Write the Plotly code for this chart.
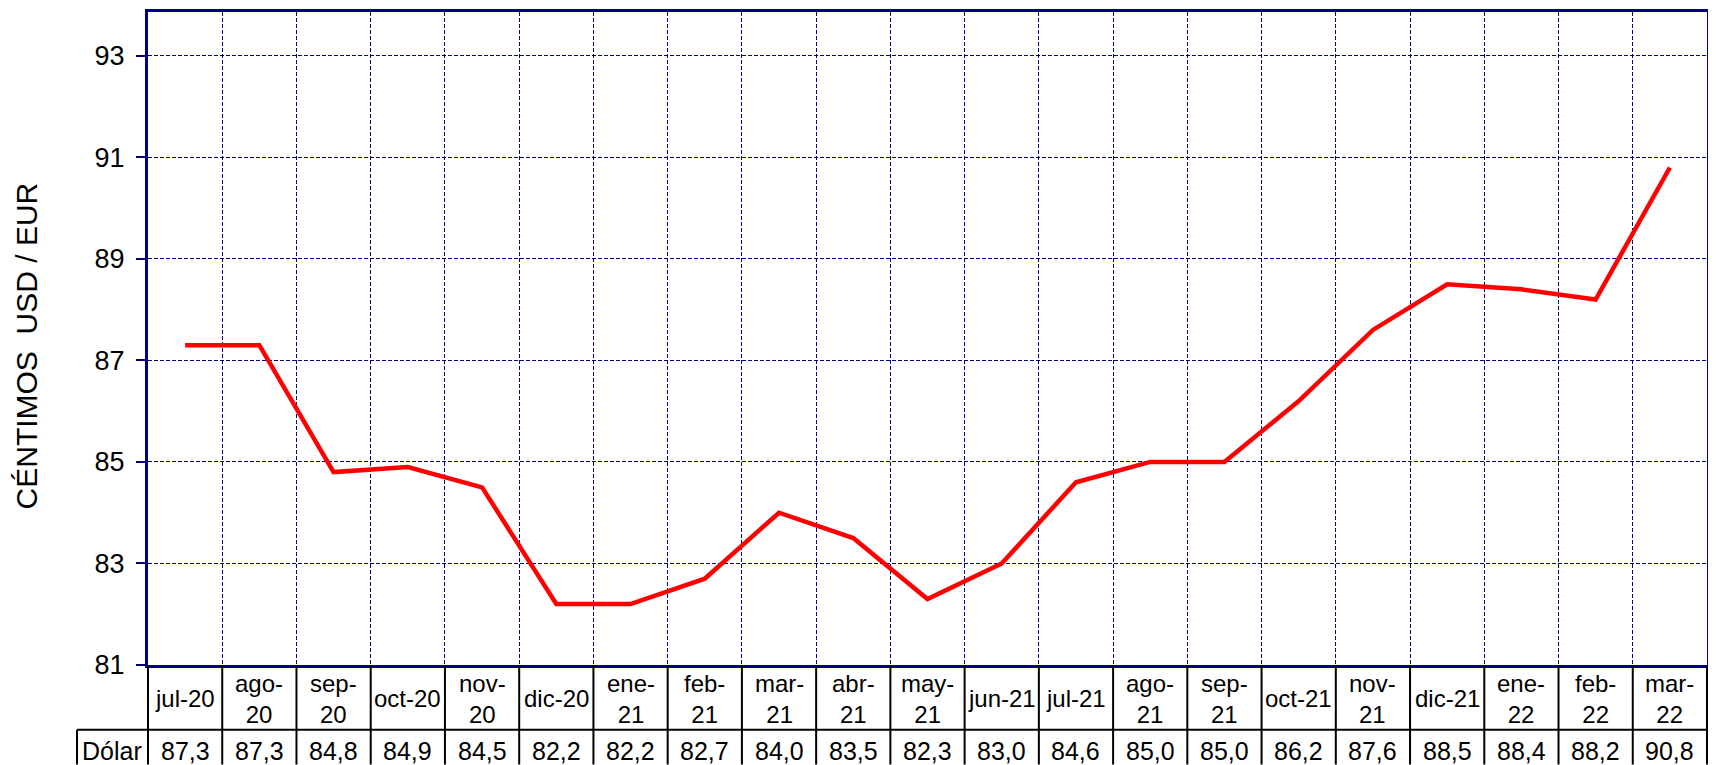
import plotly.graph_objects as go

# datos
meses = ["jul-20", "ago-20", "sep-20", "oct-20", "nov-20", "dic-20", "ene-21",
         "feb-21", "mar-21", "abr-21", "may-21", "jun-21", "jul-21", "ago-21",
         "sep-21", "oct-21", "nov-21", "dic-21", "ene-22", "feb-22", "mar-22"]
etiquetas = ["jul-20", "ago-<br>20", "sep-<br>20", "oct-20", "nov-<br>20", "dic-20",
             "ene-<br>21", "feb-<br>21", "mar-<br>21", "abr-<br>21", "may-<br>21",
             "jun-21", "jul-21", "ago-<br>21", "sep-<br>21", "oct-21", "nov-<br>21",
             "dic-21", "ene-<br>22", "feb-<br>22", "mar-<br>22"]
dolar = [87.3, 87.3, 84.8, 84.9, 84.5, 82.2, 82.2, 82.7, 84.0, 83.5, 82.3,
         83.0, 84.6, 85.0, 85.0, 86.2, 87.6, 88.5, 88.4, 88.2, 90.8]
ticks_y = [81, 83, 85, 87, 89, 91, 93]

FONT = "Liberation Sans, Arial, sans-serif"
NAVY = "#000080"

# la página deja 8px de margen en el body
OFF = 8
W, H = 1708, 757
ML, MR, MT, MB = 140, 9, 1, 100
plot_w = W - ML - MR
plot_h = H - MT - MB
# 81 abajo, ~51 px por unidad
y_top = 81 + plot_h / 51.0


def py(page_y):
    """pixel vertical de la página -> coordenada paper"""
    return (H - MB - (page_y - OFF)) / plot_h


def pxx(page_x):
    return (page_x - OFF - ML) / plot_w


fig = go.Figure()

fig.add_trace(go.Scatter(
    x=meses, y=dolar,
    mode="lines",
    line=dict(color="#ff0000", width=4.5),
    showlegend=False,
    hoverinfo="skip",
))

# tabla de datos bajo el eje x
fila1 = py(730)
fondo = py(H + OFF)
borde = dict(color="black", width=2)
shapes = []
for i in range(1, len(meses)):
    shapes.append(dict(type="line", xref="x", yref="paper", x0=i - 0.5, x1=i - 0.5,
                       y0=0, y1=fondo, line=borde))
for xp in [0, 1]:
    shapes.append(dict(type="line", xref="paper", yref="paper", x0=xp, x1=xp,
                       y0=0, y1=fondo, line=borde))
shapes.append(dict(type="line", xref="paper", yref="paper", x0=pxx(77), x1=1,
                   y0=fila1, y1=fila1, line=borde))
shapes.append(dict(type="line", xref="paper", yref="paper", x0=pxx(77), x1=pxx(77),
                   y0=fila1, y1=fondo, line=borde))

txt = dict(size=25, color="black", family=FONT)
txt_mes = dict(size=24, color="black", family=FONT)
annotations = []
for m, et, v in zip(meses, etiquetas, dolar):
    annotations.append(dict(x=m, y=py(699), xref="x", yref="paper", text=et,
                            showarrow=False, xanchor="center", yanchor="middle",
                            font=txt_mes))
    annotations.append(dict(x=m, y=py(751), xref="x", yref="paper",
                            text=f"{v:.1f}".replace(".", ","),
                            showarrow=False, xanchor="center", yanchor="middle",
                            font=txt))
annotations.append(dict(x=pxx(112), y=py(751), xref="paper", yref="paper", text="Dólar",
                        showarrow=False, xanchor="center", yanchor="middle", font=txt))
annotations.append(dict(x=pxx(26), y=py(345), xref="paper", yref="paper",
                        text="CÉNTIMOS  USD / EUR", textangle=-90, showarrow=False,
                        xanchor="center", yanchor="middle",
                        font=dict(size=30, color="black", family=FONT)))

fig.update_layout(
    width=W, height=H,
    margin=dict(l=ML, r=MR, t=MT, b=MB),
    paper_bgcolor="white", plot_bgcolor="white",
    font=dict(family=FONT, color="black"),
    xaxis=dict(
        type="category",
        categoryorder="array", categoryarray=meses,
        range=[-0.5, len(meses) - 0.5],
        tickson="boundaries",
        showticklabels=False,
        ticks="",
        showgrid=True, gridcolor=NAVY, gridwidth=1, griddash="4px,2px",
        showline=True, linecolor=NAVY, linewidth=3, mirror=True,
        zeroline=False,
    ),
    yaxis=dict(
        range=[81, y_top],
        tickvals=ticks_y,
        ticks="outside", ticklen=9, tickcolor=NAVY, tickwidth=2,
        ticklabelstandoff=6,
        tickfont=dict(size=27, color="black", family=FONT),
        showgrid=True, gridcolor=NAVY, gridwidth=1, griddash="4px,2px",
        showline=True, linecolor=NAVY, linewidth=3, mirror=True,
        zeroline=False,
    ),
    shapes=shapes,
    annotations=annotations,
)

fig.write_html("out.html")
